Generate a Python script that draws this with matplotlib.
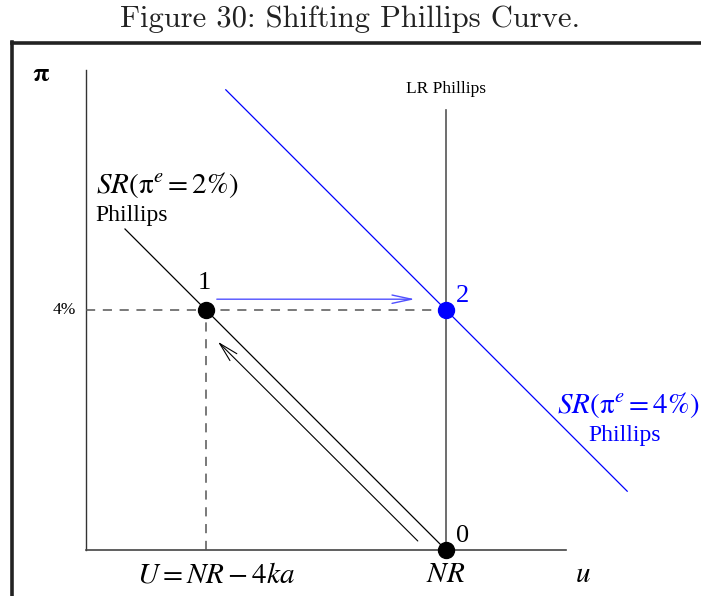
import matplotlib
matplotlib.use("Agg")
import matplotlib.pyplot as plt
from matplotlib.lines import Line2D

plt.rcParams['mathtext.fontset'] = 'stix'
plt.rcParams['font.family'] = ['Liberation Serif', 'DejaVu Serif']

# ---- data (economic units: u in arbitrary units, pi in %) ----
NR = 6.0
U1 = 2.0
pi_target = 4.0
axis_max_u = 8.0
axis_max_pi = 8.0
lr_top = 7.33
sr1_u = [0.65, 6.0]          # SR(pi^e=2%) line end points (u)
sr1_pi = [5.35, 0.0]
sr2_u = [2.33, 9.02]         # SR(pi^e=4%) line end points (u)
sr2_pi = [7.67, 0.98]
arrow_back_u = [5.53, 2.20]  # movement back along SR1 (from -> to)
arrow_back_pi = [0.15, 3.47]
arrow_shift_u = [2.18, 5.48]  # shift arrow (from -> to)
arrow_shift_pi = [4.18, 4.18]
points_u = [U1, NR, NR]
points_pi = [pi_target, pi_target, 0.0]
points_col = ['black', 'blue', 'black']
point_labels = ['1', '2', '0']

fig = plt.figure(figsize=(7.01, 5.96), dpi=100)
ax = fig.add_axes([0, 0, 1, 1])
ax.set_xlim(-86 / 60, (701 - 86) / 60)
ax.set_ylim(-46 / 60, 550 / 60)
ax.axis('off')

# frame
fig.add_artist(Line2D([11.5 / 701, 11.5 / 701], [0, 1 - 42 / 596], transform=fig.transFigure,
                      color='#222222', lw=2.6, solid_capstyle='projecting'))
fig.add_artist(Line2D([11.5 / 701, 1], [1 - 43 / 596, 1 - 43 / 596], transform=fig.transFigure,
                      color='#222222', lw=2.6, solid_capstyle='projecting'))

fig.text(0.5, 1 - 19 / 596, 'Figure 30: Shifting Phillips Curve.', family='cmr10',
         fontsize=22, ha='center', va='center', color='#222222')

# axes
ax.plot([0, 0], [0, axis_max_pi], color='#333333', lw=1.0)
ax.plot([0, axis_max_u], [0, 0], color='#444444', lw=1.2)
# LR Phillips
ax.plot([NR, NR], [0, lr_top], color='#555555', lw=1.2)
ax.text(NR, lr_top + 0.22, 'LR Phillips', fontsize=12.5, ha='center', va='bottom')

# dashed guides
ax.plot([0, NR], [pi_target, pi_target], color='#555555', lw=1.1, dashes=(6, 5))
ax.plot([U1, U1], [0, pi_target], color='#555555', lw=1.1, dashes=(6, 5))

# SR curves
ax.plot(sr1_u, sr1_pi, color='black', lw=0.9)
ax.plot(sr2_u, sr2_pi, color='blue', lw=0.9)

# arrows
ax.annotate('', xy=(arrow_back_u[1], arrow_back_pi[1]), xytext=(arrow_back_u[0], arrow_back_pi[0]),
            arrowprops=dict(arrowstyle='->,head_length=1.4,head_width=0.35', color='black', lw=0.8,
                            shrinkA=0, shrinkB=0))
ax.annotate('', xy=(arrow_shift_u[1], arrow_shift_pi[1]), xytext=(arrow_shift_u[0], arrow_shift_pi[0]),
            arrowprops=dict(arrowstyle='->,head_length=1.4,head_width=0.3', color='#5050ff', lw=1.0,
                            shrinkA=0, shrinkB=0))

# points
for u, p, c in zip(points_u, points_pi, points_col):
    ax.plot(u, p, 'o', color=c, ms=11.5, zorder=5)
ax.text(points_u[0] - 0.03, points_pi[0] + 0.26, point_labels[0], fontsize=19, ha='center', va='bottom')
ax.text(points_u[1] + 0.17, points_pi[1] + 0.05, point_labels[1], fontsize=19, ha='left', va='bottom', color='blue')
ax.text(points_u[2] + 0.17, points_pi[2] + 0.05, point_labels[2], fontsize=19, ha='left', va='bottom')

# axis labels
ax.text(-0.75, axis_max_pi - 0.08, r'$\mathbf{\pi}$', fontsize=19, ha='center', va='center')
ax.text(-0.36, pi_target, '4%', fontsize=12.5, ha='center', va='center')
ax.text(U1 + 0.17, -0.42, r'$U = NR - 4ka$', fontsize=21, ha='center', va='center')
ax.text(NR, -0.42, r'$NR$', fontsize=21, ha='center', va='center')
ax.text(8.28, -0.42, r'$u$', fontsize=21, ha='center', va='center')

# curve labels
ax.text(0.16, 6.08, r'$SR(\mathrm{\pi}^e = 2\%)$', fontsize=21, ha='left', va='center')
ax.text(0.16, 5.58, 'Phillips', fontsize=17, ha='left', va='center')
ax.text(10.22, 2.41, r'$SR(\mathrm{\pi}^e = 4\%)$', fontsize=21, ha='right', va='center', color='blue')
ax.text(8.97, 1.91, 'Phillips', fontsize=17, ha='center', va='center', color='blue')

fig.savefig('out.png', dpi=100)
